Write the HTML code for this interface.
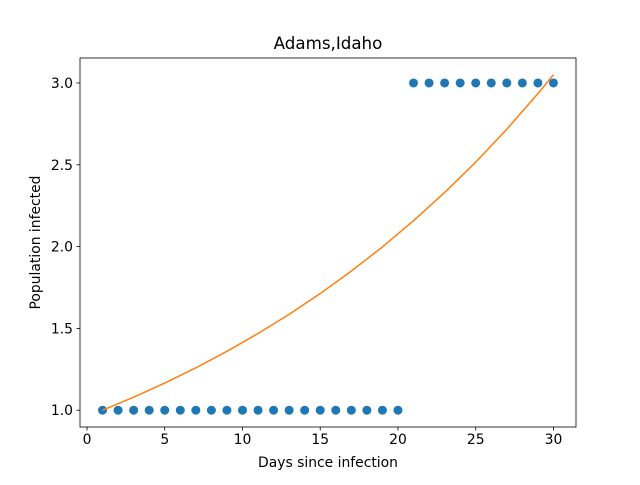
<!DOCTYPE html>
<html><head><meta charset="utf-8"><style>
body{margin:0;background:#fff;}
svg text{font-family:"DejaVu Sans","Liberation Sans",sans-serif;fill:#000;}
</style></head><body>
<svg id="chart" width="640" height="480" xmlns="http://www.w3.org/2000/svg">
<rect width="640" height="480" fill="#fff"/>
<g id="plot"></g>
</svg>
<script>
const scatterX = [1,2,3,4,5,6,7,8,9,10,11,12,13,14,15,16,17,18,19,20,21,22,23,24,25,26,27,28,29,30];
const scatterY = [1,1,1,1,1,1,1,1,1,1,1,1,1,1,1,1,1,1,1,1,3,3,3,3,3,3,3,3,3,3];
const fitX = [1,3,5,7,9,11,13,15,17,19,21,23,25,27,29,30];
const fitY = [1.000,1.080,1.166,1.259,1.360,1.469,1.586,1.713,1.850,1.998,2.158,2.330,2.516,2.717,2.935,3.05];
const xTicks = [0,5,10,15,20,25,30];
const yTicks = [1.0,1.5,2.0,2.5,3.0];
const yTickLabels = ["1.0","1.5","2.0","2.5","3.0"];

const L=80,R=576,T=58,B=427;
const xMin=-0.45,xMax=31.45,yMin=0.8975,yMax=3.1525;
const sx=v=>L+(v-xMin)/(xMax-xMin)*(R-L);
const sy=v=>B-(v-yMin)/(yMax-yMin)*(B-T);
const NS="http://www.w3.org/2000/svg";
const g=document.getElementById('plot');
function mk(tag,attrs){const e=document.createElementNS(NS,tag);for(const k in attrs)e.setAttribute(k,attrs[k]);g.appendChild(e);return e;}

xTicks.forEach(v=>{
  const t=mk('line',{x1:sx(v),x2:sx(v),y1:B,y2:B+3.5,stroke:'#000','stroke-width':0.8});
  
  
  const l=mk('text',{x:sx(v),y:B+17,'text-anchor':'middle','font-size':'13.9'});
  l.textContent=v;
  
  
});
yTicks.forEach((v,i)=>{
  const t=mk('line',{x1:L-3.5,x2:L,y1:sy(v),y2:sy(v),stroke:'#000','stroke-width':0.8});
  
  
  const l=mk('text',{x:L-7,y:sy(v)+5,'text-anchor':'end','font-size':'13.9'});
  l.textContent=yTickLabels[i];
  
  
});

scatterX.forEach((x,i)=>{
  const c=mk('circle',{cx:sx(x),cy:sy(scatterY[i]),r:4.5,fill:'#1f77b4'});
  
  
});
const pts=fitX.map((x,i)=>sx(x).toFixed(2)+','+sy(fitY[i]).toFixed(2)).join(' ');
const pl=mk('polyline',{points:pts,fill:'none',stroke:'#ff7f0e','stroke-width':1.5});



const fr=mk('rect',{x:L,y:T,width:R-L,height:B-T,fill:'none',stroke:'#000','stroke-width':0.8});



const ti=mk('text',{x:(L+R)/2,y:49,'text-anchor':'middle','font-size':'16.7'});
ti.textContent='Adams,Idaho';


const xl=mk('text',{x:(L+R)/2,y:467,'text-anchor':'middle','font-size':'13.9'});
xl.textContent='Days since infection';


const yl=mk('text',{x:0,y:0,'text-anchor':'middle','font-size':'13.9',transform:'translate(40,'+((T+B)/2)+') rotate(-90)'});
yl.textContent='Population infected';


</script>
</body></html>
